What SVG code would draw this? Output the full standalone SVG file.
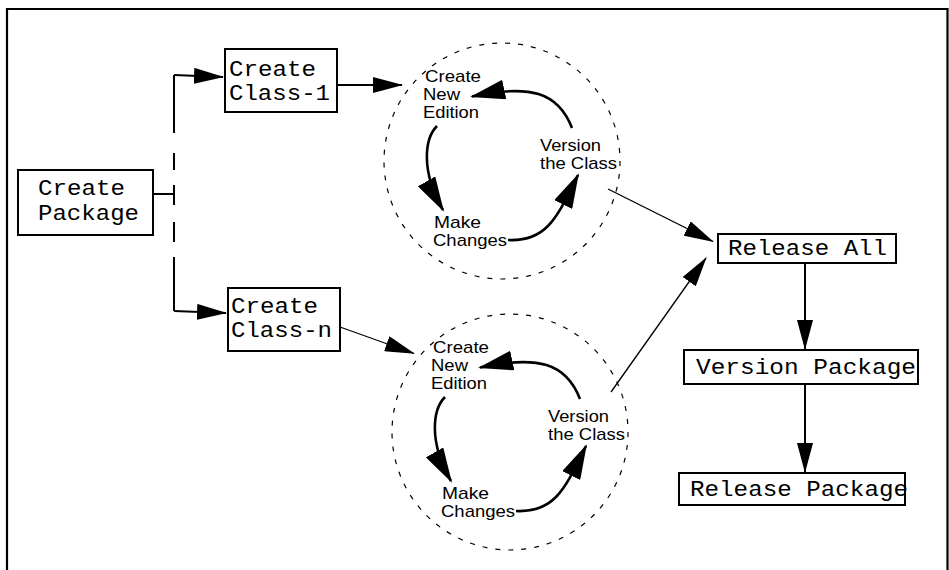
<svg xmlns="http://www.w3.org/2000/svg" width="949" height="570" viewBox="0 0 949 570">
  <style>
    .box { fill: #fff; stroke: #000; stroke-width: 2; }
    .mono { font-family: "Liberation Mono", "Courier New", monospace; font-size: 22px; fill: #000; }
    .sans { font-family: "Liberation Sans", Arial, Helvetica, sans-serif; font-size: 17px; fill: #000; }
    .edge { fill: none; stroke: #000; stroke-width: 2; }
    .thin { fill: none; stroke: #000; stroke-width: 1.3; }
    .loop { fill: none; stroke: #000; stroke-width: 2.6; }
    .ring { fill: none; stroke: #000; stroke-width: 1.2; stroke-dasharray: 5 8; }
  </style>
  <defs>
    <marker id="head" markerUnits="userSpaceOnUse" viewBox="0 0 30 16" markerWidth="30" markerHeight="16" refX="29" refY="8" orient="auto">
      <path d="M0,0 L30,8 L0,16 z" fill="#000"/>
    </marker>
    <marker id="bighead" markerUnits="userSpaceOnUse" viewBox="0 0 35 20" markerWidth="35" markerHeight="20" refX="33" refY="10" orient="auto">
      <path d="M0,0 L35,10 L0,20 z" fill="#000"/>
    </marker>
  </defs>

  <rect width="949" height="570" fill="#fff"/>

  <!-- outer frame, open at the bottom -->
  <path id="frame" d="M7,572 L7,9 L947.5,9 L947.5,572" fill="none" stroke="#000" stroke-width="2.2"/>

  <!-- straight connectors between the boxes and the edit cycles -->
  <g id="connectors">
    <path class="edge" d="M153,194 L174,194"/>
    <path class="edge" d="M174,75 L174,133 M174,153 L174,170 M174,185 L174,205 M174,222 L174,242 M174,257 L174,311"/>
    <path class="edge" d="M174,75 L223,77" marker-end="url(#head)"/>
    <path class="edge" d="M174,311 L226,313" marker-end="url(#head)"/>
    <path class="edge" d="M337,85 L402,85" marker-end="url(#head)"/>
    <path class="thin" d="M340,327 L414,353.5" marker-end="url(#head)"/>
    <path class="thin" d="M608,189 L713,241.5" marker-end="url(#head)"/>
    <path class="thin" d="M611,392 L706,258" marker-end="url(#head)"/>
    <path class="edge" d="M805,263 L805,349" marker-end="url(#head)"/>
    <path class="edge" d="M805,384 L805,472" marker-end="url(#head)"/>
  </g>

  <g id="create-package">
    <rect class="box" x="18" y="170" width="135" height="65"/>
    <text class="mono" x="38" y="195" textLength="87" lengthAdjust="spacingAndGlyphs">Create</text>
    <text class="mono" x="38" y="220" textLength="101" lengthAdjust="spacingAndGlyphs">Package</text>
  </g>

  <g id="create-class-1">
    <rect class="box" x="225" y="49" width="112" height="63"/>
    <text class="mono" x="229" y="76" textLength="87" lengthAdjust="spacingAndGlyphs">Create</text>
    <text class="mono" x="229" y="100" textLength="101" lengthAdjust="spacingAndGlyphs">Class-1</text>
  </g>

  <g id="create-class-n">
    <rect class="box" x="228" y="288" width="112" height="63"/>
    <text class="mono" x="231" y="313" textLength="87" lengthAdjust="spacingAndGlyphs">Create</text>
    <text class="mono" x="231" y="337" textLength="101" lengthAdjust="spacingAndGlyphs">Class-n</text>
  </g>

  <g id="release-all">
    <rect class="box" x="718" y="234" width="178" height="29"/>
    <text class="mono" x="728" y="255" textLength="159" lengthAdjust="spacingAndGlyphs">Release All</text>
  </g>

  <g id="version-package">
    <rect class="box" x="684" y="350" width="234" height="34"/>
    <text class="mono" x="696" y="374" textLength="220" lengthAdjust="spacingAndGlyphs">Version Package</text>
  </g>

  <g id="release-package">
    <rect class="box" x="679" y="473" width="226" height="32"/>
    <text class="mono" x="690" y="496" textLength="218" lengthAdjust="spacingAndGlyphs">Release Package</text>
  </g>

  <!-- edit cycle for Class-1 -->
  <g id="cycle-1">
    <circle class="ring" cx="502" cy="161" r="118"/>
    <g id="cycle-1-edges">
      <path class="loop" d="M572,128 C558,92 530,84 472,96.5" marker-end="url(#bighead)"/>
      <path class="loop" d="M437,126 C425,138 420,170 443,210" marker-end="url(#bighead)"/>
      <path class="loop" d="M508,240 C548,242 558,215 578,175" marker-end="url(#bighead)"/>
    </g>
    <g id="cycle-1-new-edition">
      <text class="sans" x="425" y="82" textLength="56" lengthAdjust="spacingAndGlyphs">Create</text>
      <text class="sans" x="423" y="100" textLength="37" lengthAdjust="spacingAndGlyphs">New</text>
      <text class="sans" x="423" y="118" textLength="56" lengthAdjust="spacingAndGlyphs">Edition</text>
    </g>
    <g id="cycle-1-version-class">
      <text class="sans" x="540" y="151" textLength="61" lengthAdjust="spacingAndGlyphs">Version</text>
      <text class="sans" x="540" y="169" textLength="77" lengthAdjust="spacingAndGlyphs">the Class</text>
    </g>
    <g id="cycle-1-make-changes">
      <text class="sans" x="434" y="228" textLength="47" lengthAdjust="spacingAndGlyphs">Make</text>
      <text class="sans" x="433" y="246" textLength="74" lengthAdjust="spacingAndGlyphs">Changes</text>
    </g>
  </g>

  <!-- edit cycle for Class-n -->
  <g id="cycle-n" transform="translate(8,271)">
    <circle class="ring" cx="502" cy="161" r="118"/>
    <g id="cycle-n-edges">
      <path class="loop" d="M572,128 C558,92 530,84 472,96.5" marker-end="url(#bighead)"/>
      <path class="loop" d="M437,126 C425,138 420,170 443,210" marker-end="url(#bighead)"/>
      <path class="loop" d="M508,240 C548,242 558,215 578,175" marker-end="url(#bighead)"/>
    </g>
    <g id="cycle-n-new-edition">
      <text class="sans" x="425" y="82" textLength="56" lengthAdjust="spacingAndGlyphs">Create</text>
      <text class="sans" x="423" y="100" textLength="37" lengthAdjust="spacingAndGlyphs">New</text>
      <text class="sans" x="423" y="118" textLength="56" lengthAdjust="spacingAndGlyphs">Edition</text>
    </g>
    <g id="cycle-n-version-class">
      <text class="sans" x="540" y="151" textLength="61" lengthAdjust="spacingAndGlyphs">Version</text>
      <text class="sans" x="540" y="169" textLength="77" lengthAdjust="spacingAndGlyphs">the Class</text>
    </g>
    <g id="cycle-n-make-changes">
      <text class="sans" x="434" y="228" textLength="47" lengthAdjust="spacingAndGlyphs">Make</text>
      <text class="sans" x="433" y="246" textLength="74" lengthAdjust="spacingAndGlyphs">Changes</text>
    </g>
  </g>
</svg>
